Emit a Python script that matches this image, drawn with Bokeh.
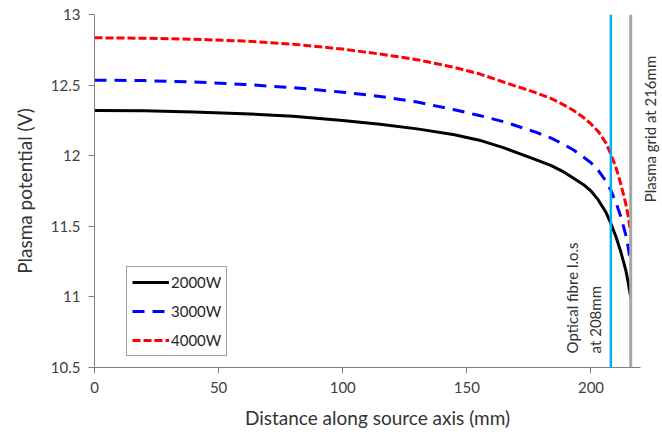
import math
from bokeh.plotting import figure
from bokeh.models import Span, Label, Legend, LegendItem, FixedTicker, NumeralTickFormatter, Range1d
from bokeh.embed import file_html
from bokeh.resources import INLINE

# ---- data ----
distance_mm = [0, 20, 40, 60, 80, 100, 115, 130, 145, 155, 165, 172, 178, 184, 189, 193, 197, 200,
               203, 206, 208, 210, 212, 214, 215, 216]
v_2000W = [12.32, 12.318, 12.31, 12.297, 12.28, 12.25, 12.222, 12.19, 12.148, 12.11, 12.055, 12.01,
           11.97, 11.93, 11.885, 11.84, 11.795, 11.75, 11.685, 11.6, 11.52, 11.43, 11.32, 11.19, 11.1, 11.0]
v_3000W = [12.535, 12.532, 12.522, 12.505, 12.482, 12.45, 12.42, 12.38, 12.325, 12.285, 12.24, 12.2,
           12.165, 12.125, 12.08, 12.04, 11.99, 11.95, 11.895, 11.82, 11.755, 11.67, 11.57, 11.44, 11.35, 11.23]
v_4000W = [12.835, 12.832, 12.825, 12.812, 12.79, 12.755, 12.72, 12.68, 12.625, 12.58, 12.52, 12.48,
           12.445, 12.405, 12.36, 12.32, 12.27, 12.225, 12.17, 12.09, 12.01, 11.92, 11.80, 11.66, 11.57, 11.46]
series_names = ["2000W", "3000W", "4000W"]
marker_positions = [208, 216]
marker_texts = [["Optical fibre l.o.s", "at 208mm"], ["Plasma grid at 216mm"]]
x_ticks = [0, 50, 100, 150, 200]
x_axis_end = 220
y_ticks = [10.5, 11, 11.5, 12, 12.5, 13]

FONT = "Lato"
TICK_COLOR = "#404040"
TITLE_COLOR = "#333333"

p = figure(width=662, height=438, output_backend="svg", toolbar_location=None,
           x_range=Range1d(0, 228), y_range=Range1d(10.5, 13),
           min_border_left=94, min_border_right=2, min_border_top=14, min_border_bottom=71)
p.outline_line_color = None
p.xgrid.grid_line_color = None
p.ygrid.grid_line_color = None
p.background_fill_color = "white"

for ax in (p.xaxis[0], p.yaxis[0]):
    ax.axis_line_color = "#808080"
    ax.axis_line_width = 1
    ax.major_tick_line_color = "#808080"
    ax.major_tick_in = 0
    ax.major_tick_out = 6
    ax.minor_tick_line_color = None
    ax.major_label_text_font = FONT
    ax.major_label_text_font_size = "15px"
    ax.major_label_text_color = TICK_COLOR
    ax.axis_label_text_font = FONT
    ax.axis_label_text_font_size = "19px"
    ax.axis_label_text_font_style = "normal"
    ax.axis_label_text_color = TITLE_COLOR

p.xaxis[0].ticker = FixedTicker(ticks=x_ticks)
p.xaxis[0].bounds = (0, x_axis_end)
p.yaxis[0].ticker = FixedTicker(ticks=y_ticks)
p.yaxis[0].formatter = NumeralTickFormatter(format="0.[0]")
p.xaxis[0].axis_label = "Distance along source axis (mm)"
p.yaxis[0].axis_label = "Plasma potential (V)"
p.xaxis[0].major_label_standoff = 8
p.yaxis[0].major_label_standoff = 8
p.xaxis[0].axis_label_standoff = 10
p.yaxis[0].axis_label_standoff = 12

# vertical markers
p.add_layout(Span(location=marker_positions[0], dimension="height", line_color="#00B0F0", line_width=2.5))
p.add_layout(Span(location=marker_positions[1], dimension="height", line_color="#A6A6A6", line_width=3))

r1 = p.line(distance_mm, v_2000W, line_color="black", line_width=3)
r2 = p.line(distance_mm, v_3000W, line_color="#0000FF", line_width=3, line_dash="12 8")
r3 = p.line(distance_mm, v_4000W, line_color="#FF0000", line_width=3, line_dash="8 3")

legend = Legend(items=[LegendItem(label=series_names[0], renderers=[r1]),
                       LegendItem(label=series_names[1], renderers=[r2]),
                       LegendItem(label=series_names[2], renderers=[r3])],
                location=(32, 11), orientation="vertical")
legend.label_text_font = FONT
legend.label_text_font_size = "15px"
legend.label_text_color = "#262626"
legend.border_line_color = "#404040"
legend.border_line_width = 1
legend.background_fill_alpha = 1
legend.glyph_width = 37
legend.glyph_height = 20
legend.label_height = 20
legend.label_standoff = 2
legend.spacing = 9
legend.padding = 5
legend.margin = 0
p.add_layout(legend)

# marker annotations
p.add_layout(Label(x=marker_positions[0], y=10.6, x_offset=-39, text=marker_texts[0][0], angle=math.pi / 2,
                   text_font=FONT, text_font_size="15px", text_color=TITLE_COLOR,
                   text_align="left", text_baseline="middle"))
p.add_layout(Label(x=marker_positions[0], y=10.6, x_offset=-16, text=marker_texts[0][1], angle=math.pi / 2,
                   text_font=FONT, text_font_size="15px", text_color=TITLE_COLOR,
                   text_align="left", text_baseline="middle"))
p.add_layout(Label(x=marker_positions[1], y=11.67, x_offset=19, text=marker_texts[1][0], angle=math.pi / 2,
                   text_font=FONT, text_font_size="15px", text_color=TITLE_COLOR,
                   text_align="left", text_baseline="middle"))

open("out.html", "w").write(file_html(p, INLINE))
